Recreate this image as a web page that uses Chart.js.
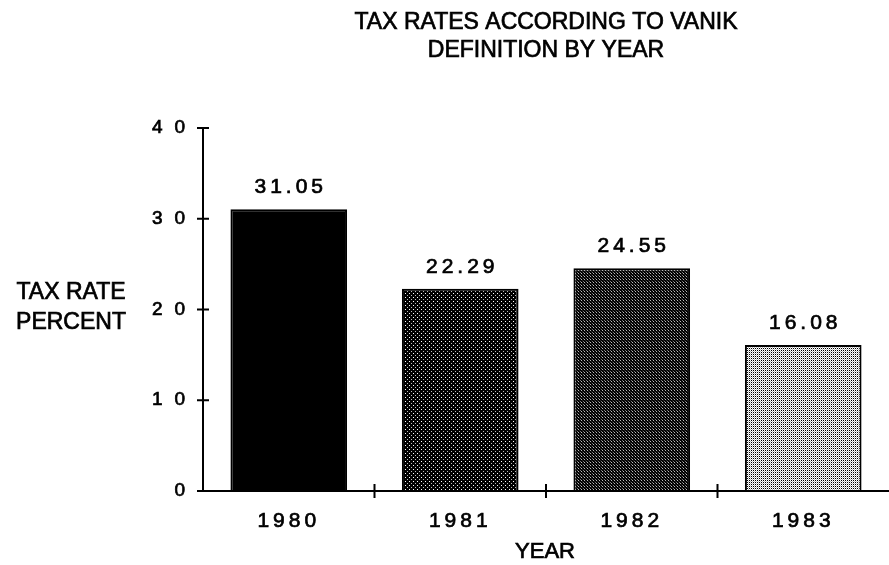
<!DOCTYPE html>
<html>
<head>
<meta charset="utf-8">
<script src="https://cdn.jsdelivr.net/npm/chart.js@4"></script>
<style>
  html, body { margin: 0; padding: 0; background: #fff; }
  #wrap { width: 889px; height: 565px; }
</style>
</head>
<body>
<div id="wrap"><canvas id="chart" width="889" height="565"></canvas></div>
<script>
// tax rate by year (percent)
var years = ["1980", "1981", "1982", "1983"];
var rates = [31.05, 22.29, 24.55, 16.08];
var yTicks = [0, 10, 20, 30, 40];

var titleLines = ["TAX RATES ACCORDING TO VANIK", "DEFINITION BY YEAR"];
var yTitleLines = ["TAX RATE", "PERCENT"];
var xTitle = "YEAR";

var FONT = "'Liberation Sans', Arial, Helvetica, sans-serif";
var INK = 0.7; // extra stroke so the type looks a bit heavier

// little halftone tiles, like the old printer fills
// rows is a list of strings, one char per pixel, looked up in pal
function tile(rows, pal) {
    var c = document.createElement('canvas');
    c.width = rows[0].length; c.height = rows.length;
    var g = c.getContext('2d');
    for (var y = 0; y < rows.length; y++) {
        for (var x = 0; x < rows[y].length; x++) {
            g.fillStyle = pal[rows[y][x]];
            g.fillRect(x, y, 1, 1);
        }
    }
    return g.createPattern(c, 'repeat');
}

var ctx0 = document.getElementById('chart').getContext('2d');
var pal = { k: '#000000', d: '#2a2a2a', g: '#777777', l: '#bbbbbb', w: '#ffffff' };
var fills = [
    '#000000',
    tile(['kkkk', 'kwkk', 'kkkk', 'kkkl'], pal),
    tile(['kkl', 'dkk', 'kgk'], pal),
    tile(['wk', 'lw'], pal)
];

// axis lines and cross-shaped tick marks
var crossTicks = {
    id: 'crossTicks',
    afterDatasetsDraw: function(chart) {
        var c = chart.ctx, a = chart.chartArea;
        var xs = chart.scales.x, ys = chart.scales.y;
        c.save();
        c.strokeStyle = '#000';
        c.lineWidth = 2;
        c.beginPath();
        c.moveTo(a.left, a.top);
        c.lineTo(a.left, a.bottom);
        c.lineTo(chart.width, a.bottom);
        yTicks.forEach(function(v) {
            var y = ys.getPixelForValue(v);
            c.moveTo(a.left - 6, y);
            c.lineTo(a.left + 6, y);
        });
        for (var i = 0; i < years.length - 1; i++) {
            var x = (xs.getPixelForValue(i) + xs.getPixelForValue(i + 1)) / 2;
            c.moveTo(x, a.bottom - 7);
            c.lineTo(x, a.bottom + 7);
        }
        c.stroke();
        c.restore();
    }
};

function inkText(c, s, x, y) {
    c.fillText(s, x, y);
    c.strokeText(s, x, y);
}

// spaced-out lettering for numbers, plus the titles and value labels
var lettering = {
    id: 'lettering',
    beforeDraw: function(chart) {
        chart.ctx.letterSpacing = '4px';
    },
    afterDraw: function(chart) {
        var c = chart.ctx, a = chart.chartArea;
        var mid = (a.left + a.right) / 2;
        c.save();
        c.fillStyle = '#000';
        c.strokeStyle = '#000';
        c.lineWidth = INK;
        c.textAlign = 'center';
        c.textBaseline = 'middle';

        // values above bars
        c.letterSpacing = '4px';
        c.font = '21px ' + FONT;
        var meta = chart.getDatasetMeta(0);
        meta.data.forEach(function(bar, i) {
            inkText(c, rates[i].toFixed(2), bar.x + 2, bar.y - 22);
        });

        c.letterSpacing = '0px';
        c.font = '23px ' + FONT;
        inkText(c, titleLines[0], mid, 23);
        inkText(c, titleLines[1], mid, 51);

        inkText(c, yTitleLines[0], 71, 293);
        inkText(c, yTitleLines[1], 71, 323);

        c.font = '22px ' + FONT;
        inkText(c, xTitle, 545, 552);
        c.restore();
    }
};

new Chart(ctx0, {
    type: 'bar',
    data: {
        labels: years,
        datasets: [{
            data: rates,
            backgroundColor: fills,
            borderColor: '#000',
            borderWidth: 2,
            categoryPercentage: 1,
            barPercentage: 0.68
        }]
    },
    options: {
        responsive: false,
        animation: false,
        layout: { padding: { top: 128, right: 0, left: 0, bottom: 0 } },
        plugins: {
            legend: { display: false },
            tooltip: { enabled: false },
            title: { display: false }
        },
        scales: {
            x: {
                grid: { display: false, drawTicks: false },
                border: { display: false },
                ticks: {
                    color: '#000',
                    font: { family: FONT, size: 21 },
                    textStrokeColor: '#000',
                    textStrokeWidth: INK,
                    padding: 18
                },
                afterFit: function(s) { s.height = 74; }
            },
            y: {
                min: 0,
                max: 40,
                afterBuildTicks: function(s) {
                    s.ticks = yTicks.map(function(v) { return { value: v }; });
                },
                grid: { display: false, drawTicks: false },
                border: { display: false },
                ticks: {
                    color: '#000',
                    font: { family: FONT, size: 19 },
                    textStrokeColor: '#000',
                    textStrokeWidth: INK,
                    padding: 14,
                    callback: function(v) { return String(v).split('').join('\u2009'); }
                },
                afterFit: function(s) { s.width = 203; }
            }
        }
    },
    plugins: [crossTicks, lettering]
});
</script>
</body>
</html>
